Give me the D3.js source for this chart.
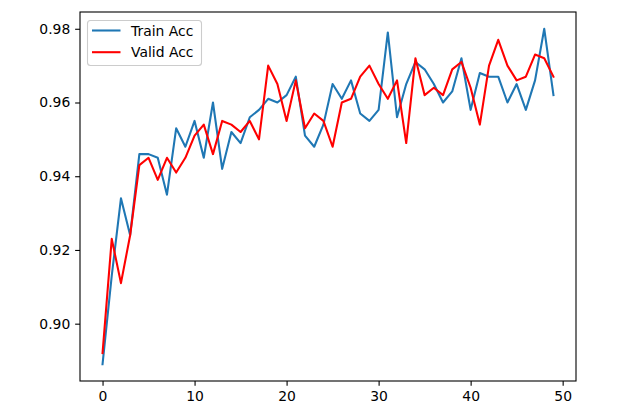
<!DOCTYPE html>
<html><head><meta charset="utf-8">
<script src="https://cdn.jsdelivr.net/npm/d3@7"></script>
<style>body{margin:0;background:#fff}svg{display:block}text{font-family:"DejaVu Sans",sans-serif}</style>
</head><body><svg id="c" width="640" height="412"></svg>
<script>
const epochs = d3.range(50);
const trainAcc = [0.889,0.913,0.934,0.924,0.946,0.946,0.945,0.935,0.953,0.948,
  0.955,0.945,0.960,0.942,0.952,0.949,0.956,0.958,0.961,0.960,
  0.962,0.967,0.951,0.948,0.954,0.965,0.961,0.966,0.957,0.955,
  0.958,0.979,0.956,0.965,0.971,0.969,0.965,0.960,0.963,0.972,
  0.958,0.968,0.967,0.967,0.960,0.965,0.958,0.966,0.980,0.962];
const validAcc = [0.892,0.923,0.911,0.924,0.943,0.945,0.939,0.945,0.941,0.945,
  0.951,0.954,0.946,0.955,0.954,0.952,0.955,0.950,0.970,0.965,
  0.955,0.966,0.953,0.957,0.955,0.948,0.960,0.961,0.967,0.970,
  0.965,0.961,0.966,0.949,0.972,0.962,0.964,0.962,0.969,0.971,
  0.964,0.954,0.970,0.977,0.970,0.966,0.967,0.973,0.972,0.967];
const xTicks = [0,10,20,30,40,50];
const yTicks = [0.90,0.92,0.94,0.96,0.98];
const seriesNames = ["Train Acc","Valid Acc"];
const seriesColors = ["#1f77b4","#ff0000"];

const L=80,R=576,T=12,B=381;
const svg=d3.select("#c");
const x=d3.scaleLinear().domain([-2.45,51.45]).range([L,R]);
const all=trainAcc.concat(validAcc);
const mn=d3.min(all),mx=d3.max(all),pad=(mx-mn)*0.05;
const y=d3.scaleLinear().domain([mn-pad,mx+pad]).range([B,T]);

const line=d3.line().x((d,i)=>x(epochs[i])).y(d=>y(d));
[trainAcc,validAcc].forEach((s,k)=>{
  svg.append("path").attr("d",line(s)).attr("fill","none")
    .attr("stroke",seriesColors[k]).attr("stroke-width",2.08)
    .attr("stroke-linejoin","round").attr("stroke-linecap","square");
});

const xa=svg.append("g").attr("transform",`translate(0,${B})`)
  .call(d3.axisBottom(x).tickValues(xTicks).tickSize(4.86).tickPadding(4.86).tickFormat(d3.format("d")));
const ya=svg.append("g").attr("transform",`translate(${L},0)`)
  .call(d3.axisLeft(y).tickValues(yTicks).tickSize(4.86).tickPadding(4.86).tickFormat(d3.format(".2f")));
[xa,ya].forEach(a=>{a.select(".domain").remove();
  a.selectAll("line").attr("stroke","#000").attr("stroke-width",1.1);
  a.selectAll("text").attr("font-family","DejaVu Sans").attr("font-size",13.9).attr("fill","#000");});

svg.append("rect").attr("x",L).attr("y",T).attr("width",R-L).attr("height",B-T)
  .attr("fill","none").attr("stroke","#000").attr("stroke-width",1.1);

const lg=svg.append("g");
lg.append("rect").attr("x",87.5).attr("y",20.5).attr("width",114).attr("height",45).attr("rx",3)
  .attr("fill","#fff").attr("fill-opacity",0.8).attr("stroke","#ccc").attr("stroke-width",1.1);
seriesNames.forEach((n,k)=>{
  const yy=30.5+k*21.7;
  lg.append("line").attr("x1",92).attr("x2",120.5).attr("y1",yy).attr("y2",yy)
    .attr("stroke",seriesColors[k]).attr("stroke-width",2.08);
  lg.append("text").attr("x",131).attr("y",yy+5).attr("font-size",13.9).attr("fill","#000").text(n);
});
</script></body></html>
